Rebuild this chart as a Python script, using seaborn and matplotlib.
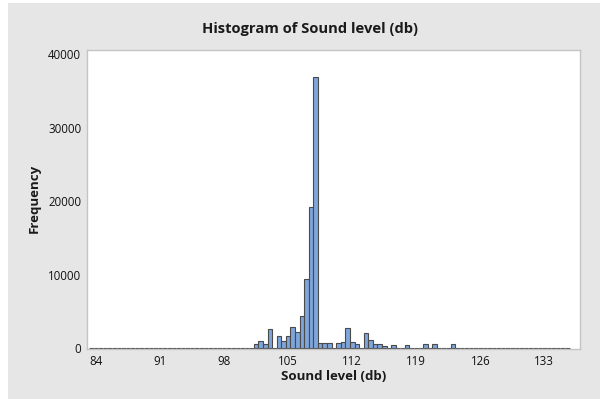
import numpy as np
import pandas as pd
import matplotlib
matplotlib.use("Agg")
import matplotlib.pyplot as plt
import seaborn as sns
from matplotlib.patches import Rectangle

# ---- data (bin width 0.5 dB) ----
bin_centers = [
    83.5, 84.0, 84.5, 85.0, 85.5, 86.0, 86.5, 87.0, 87.5, 88.0,
    88.5, 89.0, 89.5, 90.0, 90.5, 91.0, 91.5, 92.0, 92.5, 93.0,
    93.5, 94.0, 94.5, 95.0, 95.5, 96.0, 96.5, 97.0, 97.5, 98.0,
    98.5, 99.0, 99.5, 100.0, 100.5, 101.0, 101.5, 102.0, 102.5, 103.0,
    103.5, 104.0, 104.5, 105.0, 105.5, 106.0, 106.5, 107.0, 107.5, 108.0,
    108.5, 109.0, 109.5, 110.0, 110.5, 111.0, 111.5, 112.0, 112.5, 113.0,
    113.5, 114.0, 114.5, 115.0, 115.5, 116.0, 116.5, 117.0, 117.5, 118.0,
    118.5, 119.0, 119.5, 120.0, 120.5, 121.0, 121.5, 122.0, 122.5, 123.0,
    123.5, 124.0, 124.5, 125.0, 125.5, 126.0, 126.5, 127.0, 127.5, 128.0,
    128.5, 129.0, 129.5, 130.0, 130.5, 131.0, 131.5, 132.0, 132.5, 133.0,
    133.5, 134.0, 134.5, 135.0, 135.5,
]
frequencies = [
    20, 20, 20, 20, 20, 20, 20, 20, 20, 20,
    20, 20, 20, 20, 20, 20, 20, 20, 20, 20,
    20, 20, 20, 20, 20, 20, 20, 20, 20, 20,
    20, 20, 20, 20, 20, 20, 550, 950, 640, 2590,
    20, 1680, 950, 1680, 2860, 2180, 4410, 9420, 19280, 36900,
    730, 680, 680, 20, 680, 820, 2730, 820, 550, 20,
    2140, 1180, 590, 590, 380, 20, 450, 20, 20, 450,
    20, 20, 20, 540, 20, 540, 20, 20, 20, 540,
    20, 20, 20, 20, 20, 20, 20, 20, 20, 20,
    20, 20, 20, 20, 20, 20, 20, 20, 20, 20,
    20, 20, 20, 20, 60,
]
x_ticks = [84, 91, 98, 105, 112, 119, 126, 133]
y_ticks = [0, 10000, 20000, 30000, 40000]
title = "Histogram of Sound level (db)"
x_label = "Sound level (db)"
y_label = "Frequency"

df = pd.DataFrame({"level": bin_centers, "count": frequencies})

sns.set_style("white")
plt.rcParams["font.family"] = ["Open Sans", "DejaVu Sans"]

W, H = 600, 399
fig = plt.figure(figsize=(6, 3.99), dpi=100)
fig.patch.set_facecolor("white")
fig.add_artist(Rectangle((8 / W, 0), 1, (H - 3) / H, transform=fig.transFigure,
                         facecolor="#e6e6e6", edgecolor="none", zorder=0))

ax = fig.add_axes([86.7 / W, 1 - 348.5 / H, (579.5 - 86.7) / W, (348.5 - 50) / H])
ax.set_facecolor("white")

sns.histplot(data=df, x="level", weights="count", binwidth=0.5,
             binrange=(bin_centers[0] - 0.25, bin_centers[-1] + 0.25), ax=ax,
             color="#7ea6dc", edgecolor="#4a4a4a", linewidth=0.8, alpha=1)

ax.set_xlim(82.98, 136.84)
ax.set_ylim(-20, 40580)
ax.set_xticks(x_ticks)
ax.set_yticks(y_ticks)
ax.set_xticklabels([str(t) for t in x_ticks])
ax.set_yticklabels([str(t) for t in y_ticks])
ax.tick_params(axis="both", which="both", length=3, width=0.8, color="#b0b0b0",
               labelsize=8.3, labelcolor="#111111")
ax.tick_params(axis="y", pad=1)
ax.tick_params(axis="x", pad=2)
for s in ax.spines.values():
    s.set_color("#c4c4c4")
    s.set_linewidth(1)
ax.set_xlabel("")
ax.set_ylabel("")

fig.text(310.5 / W, 1 - 33.5 / H, title, ha="center", va="baseline",
         fontsize=10.6, fontweight="bold", color="#1a1a1a")
fig.text(334 / W, 1 - 380 / H, x_label, ha="center", va="baseline",
         fontsize=9.5, fontweight="bold", color="#1a1a1a")
fig.text(34 / W, 1 - 198 / H, y_label, ha="center", va="center", rotation=90,
         fontsize=9.5, fontweight="bold", color="#1a1a1a")

fig.savefig("out.png", dpi=100)
